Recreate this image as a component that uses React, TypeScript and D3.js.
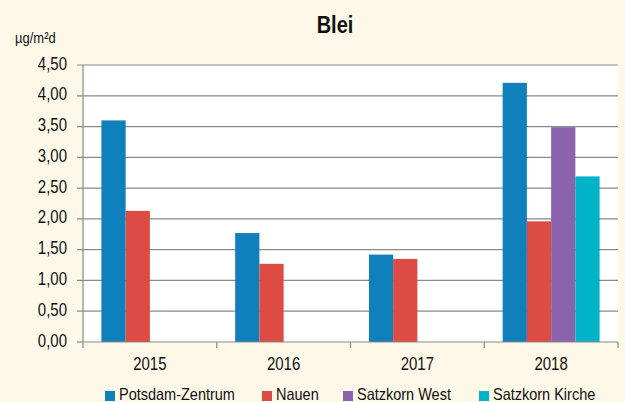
import React from "react";
import * as d3 from "d3";

const years = ["2015", "2016", "2017", "2018"];
const seriesNames = ["Potsdam-Zentrum", "Nauen", "Satzkorn West", "Satzkorn Kirche"];
const potsdam = [3.6, 1.77, 1.42, 4.21];
const nauen = [2.13, 1.27, 1.35, 1.96];
const satzkornWest = [null, null, null, 3.49];
const satzkornKirche = [null, null, null, 2.69];
const yTicks = [0, 0.5, 1, 1.5, 2, 2.5, 3, 3.5, 4, 4.5];
const colors = ["#1080bc", "#dc4b44", "#8b63ad", "#00b3c9"];

const W = 625;
const H = 402;
const left = 83;
const right = 618;
const top = 65;
const bottom = 342;
const SY = 1.18;
const FONT = "Liberation Sans, Arial, sans-serif";

function T({ x, y, size, anchor = "start", weight = "normal", sy = SY, children }: any) {
  return (
    <text
      transform={`translate(${x},${y}) scale(1,${sy})`}
      fontSize={size}
      fontFamily={FONT}
      fontWeight={weight}
      textAnchor={anchor}
      fill="#111"
    >
      {children}
    </text>
  );
}

export default function App() {
  const allSeries = [potsdam, nauen, satzkornWest, satzkornKirche];
  const x0 = d3.scaleBand<string>().domain(years).range([left, right]).padding(0);
  const x1 = d3
    .scaleBand<string>()
    .domain(seriesNames)
    .range([0, x0.bandwidth()])
    .paddingInner(0)
    .paddingOuter(0.76);
  const y = d3.scaleLinear().domain([0, 4.5]).range([bottom, top]);
  const fmt = (v: number) => v.toFixed(2).replace(".", ",");
  const legendX = [105, 262, 343, 479];

  return (
    <svg
      width={W}
      height={H}
      style={{ position: "absolute", left: 0, top: 0, display: "block" }}
    >
      <rect x={0} y={0} width={W} height={H} fill="#fef8e8" />
      <rect x={left} y={top} width={right - left} height={bottom - top} fill="#ffffff" />
      {yTicks.map((t) => (
        <g key={t}>
          <line
            x1={left - 6}
            x2={t === 0 ? left : right}
            y1={y(t)}
            y2={y(t)}
            stroke="#8a8a8a"
            strokeWidth={1.2}
          />
          <T x={67} y={y(t) + 4.5} size={15} anchor="end">
            {fmt(t)}
          </T>
        </g>
      ))}
      {allSeries.map((vals, si) =>
        years.map((yr, i) => {
          const v = vals[i];
          if (v == null) return null;
          return (
            <rect
              key={si + "-" + yr}
              x={(x0(yr) as number) + (x1(seriesNames[si]) as number)}
              y={y(v)}
              width={x1.bandwidth()}
              height={bottom - y(v)}
              fill={colors[si]}
            />
          );
        })
      )}
      <line x1={left} x2={left} y1={top} y2={bottom} stroke="#8a8a8a" strokeWidth={1.2} />
      <line x1={left} x2={right} y1={bottom} y2={bottom} stroke="#8a8a8a" strokeWidth={1.2} />
      {years.concat(["end"]).map((yr, i) => {
        const xx = left + i * x0.step();
        return (
          <line key={"t" + i} x1={xx} x2={xx} y1={bottom} y2={bottom + 6} stroke="#8a8a8a" strokeWidth={1.2} />
        );
      })}
      {years.map((yr) => (
        <T key={"l" + yr} x={(x0(yr) as number) + x0.bandwidth() / 2} y={370} size={15} anchor="middle">
          {yr}
        </T>
      ))}
      <T x={335} y={33} size={20} anchor="middle" weight="bold">
        Blei
      </T>
      <T x={15} y={43} size={13}>
        µg/m²d
      </T>
      {seriesNames.map((name, i) => (
        <g key={"lg" + name}>
          <rect x={legendX[i]} y={391} width={10} height={10} fill={colors[i]} />
          <T x={legendX[i] + 14} y={399.5} size={14.5} sy={1.08}>
            {name}
          </T>
        </g>
      ))}
    </svg>
  );
}
